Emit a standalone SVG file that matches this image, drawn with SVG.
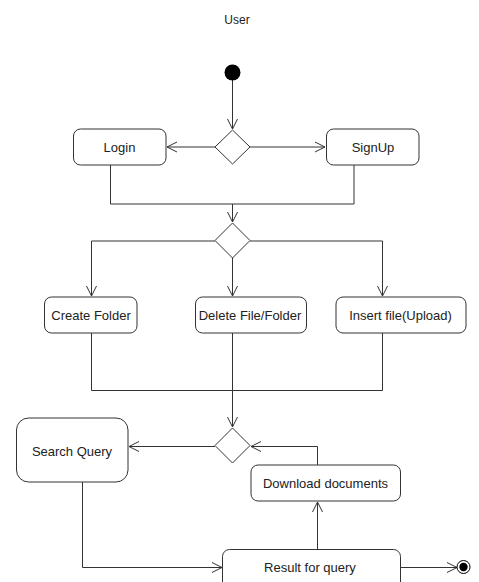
<svg xmlns="http://www.w3.org/2000/svg" width="479" height="582" viewBox="0 0 479 582">
<defs>
<style>
.n{fill:#fff;stroke:#333;stroke-width:1}
.c{fill:none;stroke:#333;stroke-width:1}
text{font-family:"Liberation Sans",Arial,sans-serif;font-size:13px;fill:#222;text-anchor:middle;dominant-baseline:central}
</style>
<marker id="a" viewBox="0 0 12 12" refX="11" refY="6" markerWidth="12" markerHeight="12" markerUnits="userSpaceOnUse" orient="auto">
<path d="M1,1 L11,6 L1,11" fill="none" stroke="#333" stroke-width="1"/>
</marker>
</defs>
<text x="237" y="20" style="font-size:12px">User</text>
<g id="connectors">
<path class="c" d="M232.5,80 V129" marker-end="url(#a)"/>
<path class="c" d="M215,147 H167" marker-end="url(#a)"/>
<path class="c" d="M250,147 H325" marker-end="url(#a)"/>
<path class="c" d="M110.5,165 V204 H354 V165"/>
<path class="c" d="M232.5,204 V222" marker-end="url(#a)"/>
<path class="c" d="M215,241 H91.5 V296" marker-end="url(#a)"/>
<path class="c" d="M232.5,258 V296" marker-end="url(#a)"/>
<path class="c" d="M250,241 H382.5 V296" marker-end="url(#a)"/>
<path class="c" d="M91.5,333 V390.5 H382.5 V333"/>
<path class="c" d="M232.5,333 V427" marker-end="url(#a)"/>
<path class="c" d="M215,446.5 H129" marker-end="url(#a)"/>
<path class="c" d="M317.5,465 V446.5 H251" marker-end="url(#a)"/>
<path class="c" d="M317.5,549 V502" marker-end="url(#a)"/>
<path class="c" d="M82.5,482 V567.5 H222" marker-end="url(#a)"/>
<path class="c" d="M400.5,567.5 H457" marker-end="url(#a)"/>
</g>
<g id="start"><circle cx="232.5" cy="72.5" r="8" fill="#000"/></g>
<g id="d1"><path class="n" d="M232.5,130 L250,147 L232.5,164 L215,147 Z"/></g>
<g id="login"><rect class="n" x="73.5" y="129" width="92.5" height="36" rx="7"/><text x="119.5" y="147">Login</text></g>
<g id="signup"><rect class="n" x="326.5" y="129" width="92.5" height="36" rx="7"/><text x="373" y="147">SignUp</text></g>
<g id="d2"><path class="n" d="M232.5,223 L250,240.5 L232.5,258 L215,240.5 Z"/></g>
<g id="create"><rect class="n" x="44.5" y="297" width="92.5" height="36" rx="7"/><text x="91" y="315.5">Create Folder</text></g>
<g id="delete"><rect class="n" x="195.5" y="297" width="111" height="36" rx="7"/><text x="250" y="315.5">Delete File/Folder</text></g>
<g id="insert"><rect class="n" x="336" y="297" width="130" height="36" rx="7"/><text x="400.5" y="315.5">Insert file(Upload)</text></g>
<g id="d3"><path class="n" d="M232.5,428 L250,445.5 L232.5,463 L215,445.5 Z"/></g>
<g id="search"><rect class="n" x="16.5" y="418" width="111.5" height="64" rx="12"/><text x="72" y="451">Search Query</text></g>
<g id="download"><rect class="n" x="251" y="465" width="149.5" height="36" rx="7"/><text x="325.5" y="483.5">Download documents</text></g>
<g id="result"><rect class="n" x="222.5" y="549.5" width="178" height="40" rx="7"/><text x="310" y="567.5">Result for query</text></g>
<g id="end"><circle cx="463.5" cy="567" r="6.5" fill="#fff" stroke="#000" stroke-width="1"/><circle cx="463.5" cy="567" r="4.2" fill="#000"/></g>
</svg>
